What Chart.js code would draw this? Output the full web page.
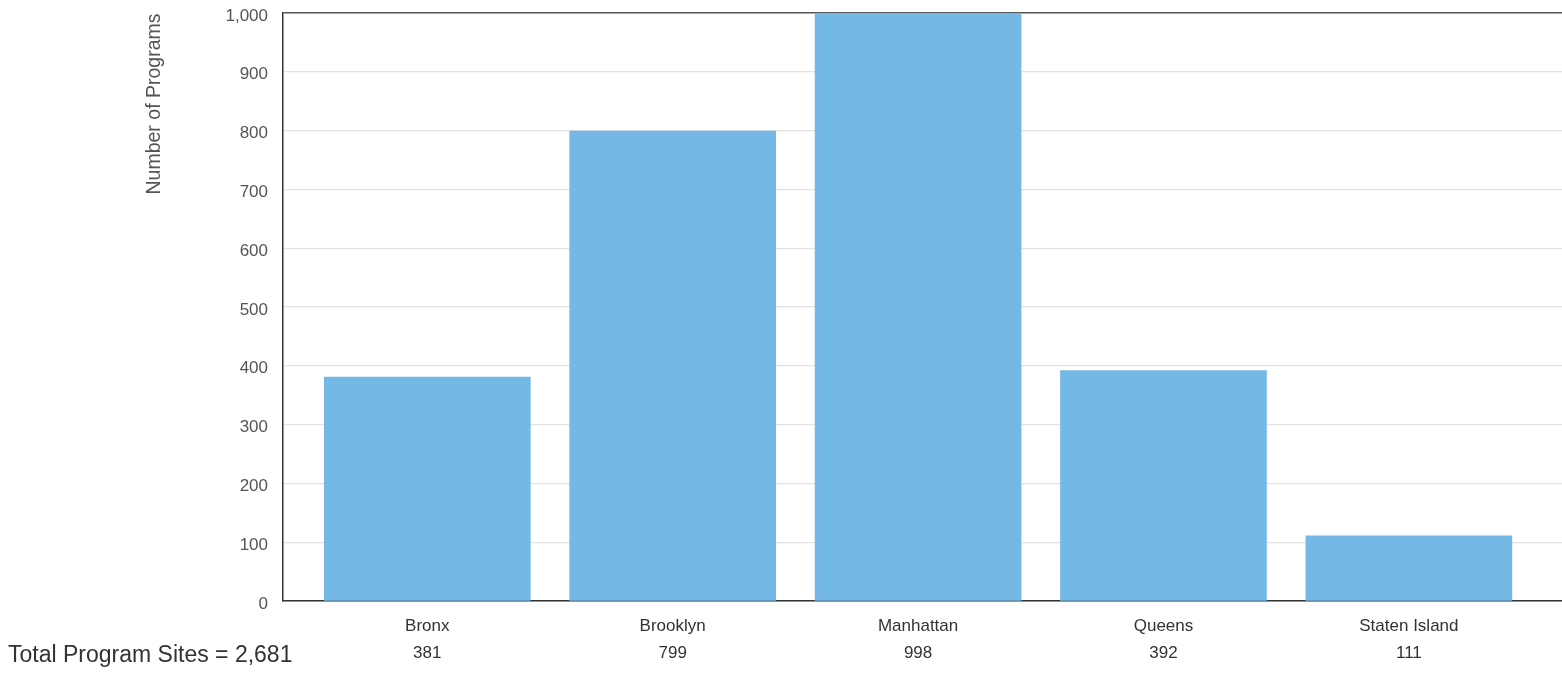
<!DOCTYPE html>
<html>
<head>
<meta charset="utf-8">
<title>Program Sites by Borough</title>
<script src="https://cdn.jsdelivr.net/npm/chart.js@4.4.1/dist/chart.umd.min.js"></script>
<style>
  html, body { margin: 0; padding: 0; background: #ffffff; }
  #wrap { position: relative; width: 1562px; height: 676px; }
</style>
</head>
<body>
<div id="wrap"><canvas id="chart"></canvas></div>
<script>
// Program counts per borough
const boroughs = ['Bronx', 'Brooklyn', 'Manhattan', 'Queens', 'Staten Island'];
const programCounts = [381, 799, 998, 392, 111];
const yTicks = [0, 100, 200, 300, 400, 500, 600, 700, 800, 900, 1000];
const yAxisTitle = 'Number of Programs';
const totalLabel = 'Total Program Sites = 2,681';

const FONT = '"Liberation Sans", Arial, "DejaVu Sans", sans-serif';
const fmt = v => Number(v).toLocaleString('en-US');

// Side texts: rotated axis title and the total note at the lower left
const sideText = {
  id: 'sideText',
  afterDraw(chart) {
    const ctx = chart.ctx;
    ctx.save();
    ctx.fillStyle = '#555555';
    ctx.font = '19.5px ' + FONT;
    ctx.textAlign = 'center';
    ctx.textBaseline = 'middle';
    ctx.translate(155, 104);
    ctx.rotate(-Math.PI / 2);
    ctx.fillText(yAxisTitle, 0, 0);
    ctx.restore();

    ctx.save();
    ctx.fillStyle = '#333333';
    ctx.font = '23px ' + FONT;
    ctx.textAlign = 'left';
    ctx.textBaseline = 'alphabetic';
    ctx.fillText(totalLabel, 8, 662);
    ctx.restore();
  }
};

new Chart(document.getElementById('chart'), {
  type: 'bar',
  data: {
    datasets: [{
      data: boroughs.map((b, i) => ({ x: i, y: programCounts[i] })),
      backgroundColor: '#74B9E6',
      borderWidth: 0,
      barThickness: 206
    }]
  },
  options: {
    responsive: true,
    maintainAspectRatio: false,
    animation: false,
    layout: { padding: { top: 0, right: 0, bottom: 0, left: 0 } },
    plugins: {
      legend: { display: false },
      tooltip: { enabled: false }
    },
    scales: {
      x: {
        type: 'linear',
        offset: false,
        min: -0.588,
        max: 4.624,
        afterFit(scale) { scale.height = 75; },
        afterBuildTicks(scale) {
          scale.ticks = boroughs.map((b, i) => ({ value: i }));
        },
        grid: { display: false, drawTicks: false, offset: false },
        border: { display: true, color: '#333333', width: 1.5 },
        ticks: {
          autoSkip: false,
          maxRotation: 0,
          padding: 12,
          color: '#333333',
          font: { family: FONT, size: 17, lineHeight: 1.6 },
          callback: v => [boroughs[v], fmt(programCounts[v])]
        }
      },
      y: {
        min: 0,
        max: 1000,
        afterFit(scale) {
          scale.width = 283;
          scale.paddingTop = 13;
          scale.paddingBottom = 0;
        },
        afterBuildTicks(scale) {
          scale.ticks = yTicks.map(v => ({ value: v }));
        },
        grid: {
          drawTicks: false,
          color: c => (c.tick && c.tick.value === 1000) ? '#555555' : '#e2e2e2',
          lineWidth: c => (c.tick && c.tick.value === 1000) ? 1.5 : 1.2
        },
        border: { display: true, color: '#333333', width: 1.5 },
        ticks: {
          padding: 15,
          labelOffset: 3,
          color: '#555555',
          font: { family: FONT, size: 17 },
          callback: v => fmt(v)
        }
      }
    }
  },
  plugins: [sideText]
});
</script>
</body>
</html>
